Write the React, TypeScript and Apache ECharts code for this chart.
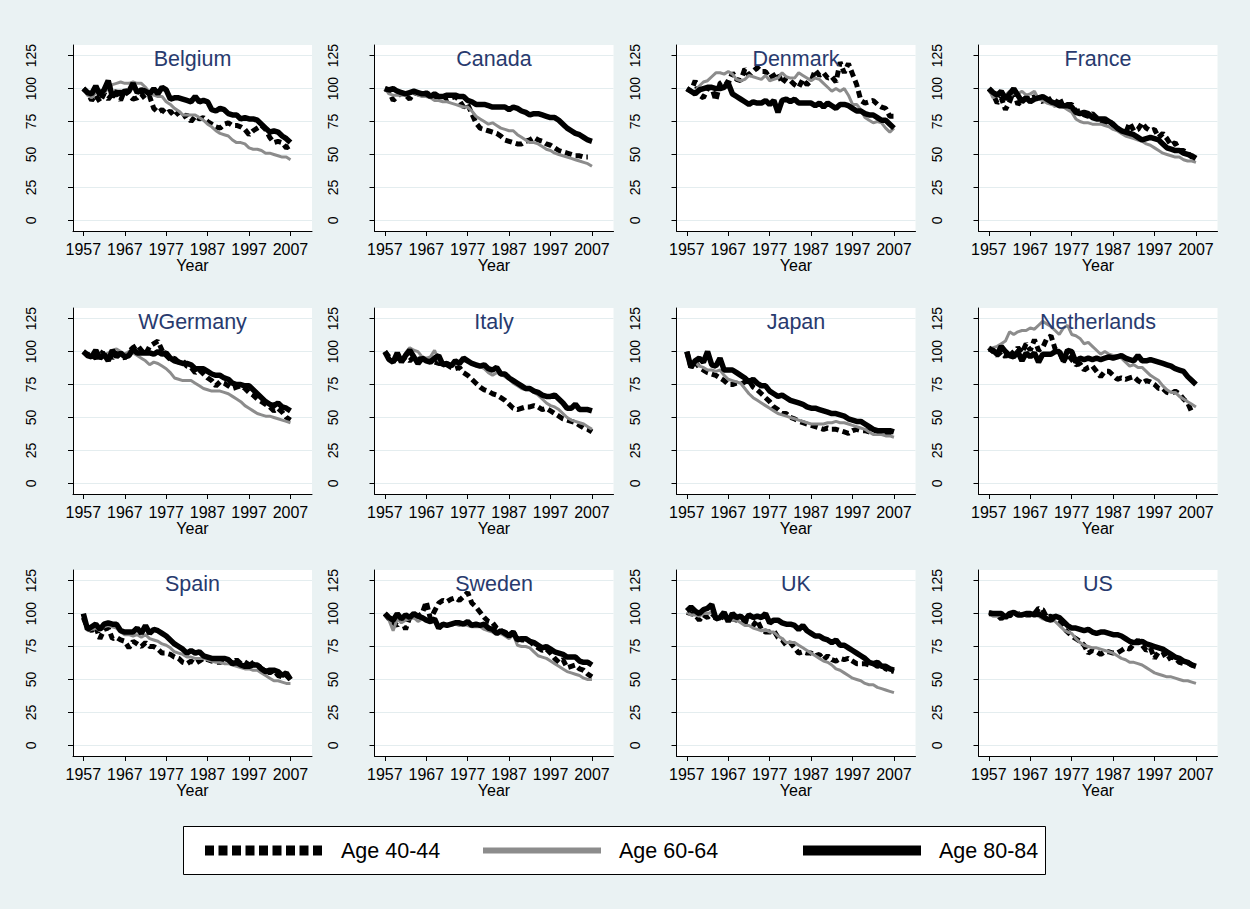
import React, { useEffect, useRef } from "react";
import * as echarts from "echarts";

const years = [
  1957, 1958, 1959, 1960, 1961, 1962, 1963, 1964, 1965, 1966,
  1967, 1968, 1969, 1970, 1971, 1972, 1973, 1974, 1975, 1976,
  1977, 1978, 1979, 1980, 1981, 1982, 1983, 1984, 1985, 1986,
  1987, 1988, 1989, 1990, 1991, 1992, 1993, 1994, 1995, 1996,
  1997, 1998, 1999, 2000, 2001, 2002, 2003, 2004, 2005, 2006,
  2007,
];
const xTicks = [1957, 1967, 1977, 1987, 1997, 2007];
const yTicks = [0, 25, 50, 75, 100, 125];
const countries = ["Belgium", "Canada", "Denmark", "France", "WGermany", "Italy", "Japan", "Netherlands", "Spain", "Sweden", "UK", "US"];
const ageGroups = ["Age 40-44", "Age 60-64", "Age 80-84"];

const belgium40 = [100, 97, 91, 95, 90, 96, 92, 96, 98, 91, 99, 95, 92, 93, 96, 92, 94, 85, 82, 84, 81, 83, 79, 82, 78, 80, 75, 79, 77, 78, 75, 73, 71, 70, 73, 74, 72, 72, 71, 69, 65, 68, 70, 72, 69, 63, 59, 60, 59, 55, 57];
const belgium60 = [100, 95, 93, 97, 99, 97, 100, 103, 104, 105, 104, 104, 105, 104, 104, 101, 97, 95, 94, 94, 90, 88, 85, 83, 80, 80, 80, 80, 78, 76, 73, 71, 68, 66, 65, 64, 61, 59, 59, 58, 55, 54, 54, 53, 51, 51, 50, 49, 48, 48, 46];
const belgium80 = [100, 97, 96, 102, 95, 99, 106, 94, 97, 97, 97, 98, 104, 97, 99, 98, 96, 100, 96, 101, 99, 92, 93, 93, 92, 91, 90, 94, 90, 91, 90, 84, 83, 85, 84, 81, 80, 80, 77, 78, 77, 77, 76, 73, 70, 67, 68, 67, 64, 62, 59];

const canada40 = [100, 98, 91, 94, 97, 95, 92, 97, 96, 95, 97, 95, 93, 94, 95, 92, 93, 94, 91, 86, 88, 81, 74, 70, 69, 68, 67, 66, 64, 61, 60, 59, 58, 58, 60, 61, 63, 61, 60, 58, 57, 55, 53, 52, 51, 50, 49, 49, 48, 48, null];
const canada60 = [100, 96, 95, 95, 95, 95, 96, 97, 95, 94, 94, 93, 91, 91, 90, 90, 89, 88, 87, 86, 86, 83, 79, 77, 75, 73, 74, 72, 70, 69, 68, 68, 65, 63, 61, 59, 59, 58, 56, 54, 53, 51, 50, 49, 48, 47, 46, 45, 44, 43, 41];
const canada80 = [100, 99, 100, 98, 97, 96, 97, 98, 97, 96, 96, 94, 96, 94, 94, 95, 95, 95, 94, 94, 91, 90, 88, 88, 88, 87, 86, 86, 86, 86, 84, 86, 85, 83, 82, 80, 81, 81, 80, 79, 78, 78, 76, 73, 70, 68, 66, 65, 63, 61, 60];

const denmark40 = [100, 98, 106, 95, 93, 100, 101, 91, 104, 106, 104, 112, 107, 106, 115, 110, 113, 116, 113, 113, 108, 110, 112, 104, 108, 106, 103, 101, 107, 103, 106, 114, 110, 112, 108, 109, 105, 120, 112, 119, 111, 103, 91, 89, 90, 91, 88, 86, 85, 79, 79];
const denmark60 = [100, 98, 98, 102, 105, 106, 109, 112, 112, 111, 113, 111, 107, 106, 107, 110, 109, 108, 107, 110, 106, 107, 108, 112, 109, 108, 108, 112, 110, 108, 106, 108, 107, 104, 101, 98, 100, 98, 100, 95, 88, 88, 84, 78, 76, 74, 75, 74, 70, 67, 70];
const denmark80 = [100, 98, 96, 99, 100, 101, 101, 100, 100, 101, 104, 96, 94, 92, 90, 88, 90, 89, 89, 91, 88, 91, 82, 91, 92, 90, 92, 89, 89, 89, 89, 87, 89, 86, 89, 87, 85, 88, 88, 87, 85, 83, 83, 81, 80, 80, 78, 76, 76, 73, 70];

const france40 = [100, 96, 89, 93, 84, 90, 98, 88, 91, 93, 92, 94, 92, 90, 95, 90, 87, 93, 86, 88, 88, 83, 83, 80, 79, 81, 78, 76, 74, 76, 72, 70, 68, 66, 74, 68, 69, 74, 70, 68, 69, 63, 66, 62, 57, 59, 53, 53, 51, 48, 48];
const france60 = [100, 93, 95, 97, 95, 98, 96, 96, 98, 95, 96, 98, 92, 91, 89, 88, 87, 87, 86, 84, 82, 77, 75, 74, 74, 73, 73, 73, 72, 71, 69, 68, 66, 64, 63, 62, 61, 60, 58, 57, 55, 53, 51, 50, 49, 48, 48, 46, 45, 45, 44];
const france80 = [100, 97, 95, 98, 92, 96, 100, 95, 90, 93, 90, 92, 93, 94, 92, 90, 89, 87, 87, 87, 86, 82, 81, 82, 81, 78, 77, 77, 77, 75, 73, 70, 68, 67, 66, 65, 63, 61, 62, 63, 62, 61, 58, 55, 54, 53, 53, 51, 50, 49, 47];

const wgermany40 = [100, 98, 97, 95, 100, 98, 100, 95, 99, 97, 95, 100, 103, 105, 101, 98, 104, 106, 108, 101, 97, 94, 95, 92, 93, 89, 88, 84, 86, 83, 80, 78, 74, 77, 76, 74, 72, 73, 74, 72, 69, 67, 64, 62, 60, 58, 55, 57, 54, 50, 48];
const wgermany60 = [100, 97, 97, 99, 98, 97, 99, 101, 102, 100, 98, 100, 99, 97, 95, 93, 90, 92, 91, 89, 87, 84, 80, 79, 78, 78, 78, 76, 74, 72, 71, 70, 70, 70, 69, 68, 66, 64, 62, 59, 57, 55, 53, 52, 51, 51, 50, 49, 48, 47, 46];
const wgermany80 = [100, 97, 96, 101, 95, 98, 93, 101, 96, 99, 96, 97, 102, 99, 99, 99, 99, 98, 100, 98, 99, 95, 93, 92, 91, 91, 90, 87, 87, 87, 85, 83, 82, 82, 80, 79, 76, 75, 75, 74, 74, 71, 68, 65, 62, 60, 59, 61, 58, 57, 55];

const italy40 = [100, 96, 93, 95, 93, 96, 93, 96, 94, 95, 92, 95, 92, 91, 91, 90, 88, 87, 88, 84, 82, 79, 76, 73, 71, 70, 68, 67, 65, 63, 60, 57, 56, 57, 58, 58, 59, 58, 56, 57, 55, 53, 51, 49, 48, 47, 46, 44, 42, 41, 39];
const italy60 = [100, 94, 92, 97, 93, 99, 103, 101, 100, 96, 95, 96, 101, 93, 92, 91, 91, 90, 92, 93, 92, 91, 89, 89, 87, 84, 82, 84, 83, 81, 79, 76, 74, 72, 71, 71, 69, 67, 64, 61, 59, 58, 56, 53, 50, 48, 47, 46, 45, 43, 41];
const italy80 = [100, 94, 92, 99, 92, 97, 101, 96, 91, 95, 93, 92, 95, 97, 90, 91, 89, 93, 91, 95, 93, 91, 90, 89, 90, 87, 86, 88, 83, 83, 80, 78, 76, 74, 72, 72, 70, 69, 67, 66, 66, 67, 64, 61, 57, 57, 60, 56, 56, 56, 55];

const japan40 = [100, 88, 92, 88, 86, 84, 83, 82, 80, 78, 75, 75, 76, 75, 77, 78, 73, 71, 68, 65, 62, 58, 56, 53, 53, 50, 49, 47, 46, 45, 44, 43, 42, 41, 42, 41, 41, 40, 39, 38, 40, 41, 40, 40, 39, 38, 38, 38, 38, 37, 37];
const japan60 = [100, 88, 92, 89, 88, 86, 86, 85, 86, 82, 79, 78, 77, 76, 72, 68, 65, 63, 61, 59, 57, 55, 53, 52, 51, 50, 49, 48, 47, 46, 45, 45, 45, 45, 46, 46, 47, 46, 46, 45, 44, 43, 42, 41, 39, 37, 37, 37, 36, 36, 35];
const japan80 = [100, 88, 93, 95, 92, 100, 90, 89, 95, 86, 86, 86, 84, 82, 80, 77, 79, 76, 74, 74, 70, 68, 66, 67, 65, 63, 62, 61, 60, 58, 57, 57, 56, 55, 54, 53, 53, 52, 51, 49, 48, 47, 47, 45, 43, 41, 40, 40, 40, 40, 39];

const netherlands40 = [103, 100, 97, 100, 96, 101, 98, 103, 99, 106, 101, 109, 101, 103, 110, 112, 102, 101, 92, 98, 94, 90, 91, 86, 88, 89, 85, 81, 85, 85, 82, 79, 80, 79, 80, 81, 78, 76, 78, 77, 75, 72, 72, 69, 68, 70, 68, 64, 61, 54, null];
const netherlands60 = [102, 103, 104, 106, 108, 115, 113, 115, 116, 116, 118, 117, 120, 123, 121, 119, 116, 113, 118, 120, 113, 112, 110, 106, 107, 104, 101, 98, 100, 98, 97, 97, 95, 92, 89, 90, 88, 88, 85, 82, 80, 78, 74, 71, 69, 69, 66, 64, 62, 60, 58];
const netherlands80 = [102, 101, 98, 104, 100, 97, 96, 100, 93, 99, 96, 99, 92, 98, 98, 98, 100, 100, 93, 101, 100, 92, 95, 94, 95, 94, 95, 94, 95, 96, 95, 96, 97, 95, 94, 93, 97, 93, 93, 94, 93, 92, 91, 90, 89, 87, 86, 85, 81, 78, 75];

const spain40 = [97, 89, 87, 90, 81, 88, 89, 81, 82, 80, 79, 74, 79, 77, 75, 78, 75, 75, 73, 70, 70, 69, 67, 66, 63, 62, 64, 62, 64, 66, 65, 64, 63, 63, 64, 65, 62, 65, 62, 60, 65, 61, 62, 58, 57, 55, 57, 53, 52, 53, 50];
const spain60 = [99, 87, 88, 89, 87, 90, 91, 90, 89, 86, 84, 84, 83, 84, 82, 84, 81, 80, 79, 77, 76, 74, 71, 70, 69, 67, 67, 66, 66, 66, 65, 64, 63, 63, 62, 62, 61, 60, 59, 58, 58, 57, 57, 55, 53, 51, 49, 49, 48, 47, 47];
const spain80 = [100, 88, 90, 92, 88, 92, 93, 92, 92, 87, 86, 86, 86, 89, 85, 91, 85, 88, 87, 85, 83, 80, 77, 75, 73, 70, 72, 70, 71, 68, 67, 66, 66, 66, 66, 65, 62, 63, 61, 60, 60, 61, 61, 58, 56, 57, 57, 56, 53, 55, 50];

const sweden40 = [100, 96, 93, 91, 96, 88, 97, 99, 98, 100, 109, 96, 102, 108, 110, 109, 111, 112, 110, 113, 116, 108, 105, 101, 97, 94, 93, 89, 87, 86, 84, 86, 81, 80, 80, 79, 76, 74, 72, 73, 70, 66, 63, 65, 59, 60, 61, 58, 57, 54, 52];
const sweden60 = [99, 95, 87, 96, 93, 95, 96, 97, 94, 96, 95, 93, 94, 91, 91, 92, 91, 92, 91, 92, 91, 90, 90, 90, 88, 87, 86, 84, 85, 83, 81, 84, 76, 75, 75, 74, 71, 68, 67, 66, 64, 62, 60, 58, 56, 55, 54, 53, 51, 50, 50];
const sweden80 = [100, 97, 95, 100, 96, 99, 97, 100, 98, 97, 95, 94, 96, 89, 92, 91, 92, 93, 93, 92, 94, 91, 92, 91, 92, 89, 88, 85, 87, 85, 83, 86, 80, 81, 81, 79, 78, 76, 74, 75, 73, 71, 70, 69, 67, 67, 67, 64, 63, 63, 61];

const uk40 = [101, 100, 99, 95, 99, 97, 100, 97, 96, 98, 96, 96, 95, 94, 94, 93, 91, 95, 88, 86, 86, 87, 82, 80, 76, 78, 74, 70, 71, 70, 70, 68, 69, 65, 68, 65, 64, 66, 65, 66, 64, 62, 62, 62, 61, 62, 60, 61, 58, 57, 56];
const uk60 = [101, 99, 99, 98, 100, 100, 101, 97, 97, 98, 96, 95, 95, 93, 91, 91, 89, 88, 87, 88, 86, 86, 83, 81, 78, 78, 78, 76, 74, 72, 70, 68, 66, 64, 63, 61, 58, 57, 55, 53, 51, 50, 49, 47, 46, 46, 44, 43, 42, 41, 40];
const uk80 = [102, 105, 102, 100, 103, 104, 107, 96, 97, 101, 94, 100, 97, 98, 95, 99, 97, 98, 97, 100, 93, 95, 95, 93, 92, 92, 91, 88, 91, 87, 85, 83, 83, 81, 80, 78, 80, 76, 76, 74, 72, 70, 68, 66, 63, 62, 63, 60, 60, 58, 57];

const us40 = [101, 100, 99, 96, 100, 98, 101, 99, 101, 99, 99, 100, 104, 103, 97, 98, 96, 93, 89, 86, 83, 81, 79, 76, 70, 72, 71, 69, 71, 71, 70, 70, 72, 74, 73, 77, 80, 76, 72, 74, 66, 71, 71, 65, 67, 66, 63, 62, 63, 61, 60];
const us60 = [100, 98, 98, 99, 98, 100, 100, 100, 100, 99, 100, 99, 98, 96, 95, 96, 94, 91, 88, 86, 85, 81, 78, 76, 75, 74, 74, 73, 72, 71, 70, 68, 66, 65, 63, 63, 62, 61, 59, 57, 55, 54, 53, 52, 52, 51, 50, 49, 49, 48, 47];
const us80 = [100, 100, 100, 100, 97, 100, 101, 99, 99, 100, 100, 99, 100, 98, 96, 95, 98, 97, 94, 91, 89, 89, 88, 87, 88, 86, 85, 86, 86, 85, 84, 84, 83, 81, 79, 78, 78, 79, 77, 76, 75, 74, 73, 71, 69, 67, 66, 64, 63, 61, 60];

const countrySeries = [
  [belgium40, belgium60, belgium80],
  [canada40, canada60, canada80],
  [denmark40, denmark60, denmark80],
  [france40, france60, france80],
  [wgermany40, wgermany60, wgermany80],
  [italy40, italy60, italy80],
  [japan40, japan60, japan80],
  [netherlands40, netherlands60, netherlands80],
  [spain40, spain60, spain80],
  [sweden40, sweden60, sweden80],
  [uk40, uk60, uk80],
  [us40, us60, us80],
];

const FONT = "'Liberation Sans', Arial, Helvetica, sans-serif";
const GRAY = "#8c8c8c";
const NAVY = "#283a6e";

const colLeft = [73, 374.5, 676.5, 978.5];
const rowTop = [45, 308, 570];
const PW = 239;
const PH = 186;

const lineStyles = [
  { color: "#000", width: 5, type: [7, 4], cap: "butt" },
  { color: GRAY, width: 3 },
  { color: "#000", width: 5.5 },
];
const lineColors = ["#000", GRAY, "#000"];
const legendLineStyles = [
  { color: "#000", width: 10, type: [9, 4.5] },
  { color: GRAY, width: 6 },
  { color: "#000", width: 10 },
];
const legendKeyX = [200, 480, 798];

export default function App() {
  const ref = useRef<HTMLDivElement>(null);
  useEffect(() => {
    document.body.style.margin = "0";
    const chart = echarts.init(ref.current!, undefined, { renderer: "svg" });
    const grids: any[] = [];
    const xAxes: any[] = [];
    const yAxes: any[] = [];
    const series: any[] = [];
    const graphics: any[] = [];
    countries.forEach((name, i) => {
      const c = i % 4;
      const r = Math.floor(i / 4);
      const left = colLeft[c];
      const top = rowTop[r];
      grids.push({ left, top, width: PW, height: PH, show: true, backgroundColor: "#fff", borderWidth: 0, containLabel: false });
      xAxes.push({
        type: "value", gridIndex: i, min: 1954.5, max: 2012.2,
        axisLine: { show: true, onZero: false, lineStyle: { color: "#000", width: 1 } },
        axisTick: { show: true, length: 5, customValues: xTicks, lineStyle: { color: "#000" } },
        axisLabel: { customValues: xTicks, fontSize: 16, color: "#000", margin: 10, fontFamily: FONT, formatter: (v: number) => String(v) },
        splitLine: { show: false },
        name: "Year", nameLocation: "middle", nameGap: 25,
        nameTextStyle: { fontSize: 16, color: "#000", fontFamily: FONT },
      });
      yAxes.push({
        type: "value", gridIndex: i, min: -8.1, max: 133.1,
        axisLine: { show: true, onZero: false, lineStyle: { color: "#000", width: 1 } },
        axisTick: { show: true, length: 5, customValues: yTicks, lineStyle: { color: "#000" } },
        axisLabel: { customValues: yTicks, rotate: 90, fontSize: 14, color: "#000", margin: 35, fontFamily: FONT, formatter: (v: number) => String(v) },
        splitLine: { show: true, lineStyle: { color: "#e4edef", width: 1 } },
      });
      countrySeries[i].forEach((vals, k) => {
        series.push({
          type: "line", name: ageGroups[k], xAxisIndex: i, yAxisIndex: i,
          data: years.map((y, j) => [y, vals[j]]),
          symbol: "none", connectNulls: false, silent: true,
          itemStyle: { color: lineColors[k] },
          lineStyle: lineStyles[k], z: 2 + k,
        });
      });
      graphics.push({
        type: "text", x: left + PW / 2, y: top + 14,
        style: { text: name, fontSize: 21.5, fontFamily: FONT, fill: NAVY, textAlign: "center", textVerticalAlign: "middle" },
        z: 100,
      });
    });
    graphics.push({
      type: "rect", shape: { x: 183.5, y: 826.5, width: 862, height: 48 },
      style: { fill: "#fff", stroke: "#000", lineWidth: 1 }, z: 0,
    });
    const hidden = { color: "rgba(0,0,0,0)", borderWidth: 0, opacity: 0 };
    const legends = ageGroups.map((g, k) => ({
      left: legendKeyX[k], top: 839.5, orient: "horizontal",
      padding: 0, itemGap: 0, itemWidth: 118, itemHeight: 10,
      selectedMode: false, z: 10,
      textStyle: { fontSize: 21.5, color: "#000", fontFamily: FONT, padding: [0, 0, 0, 13] },
      data: [{ name: g, itemStyle: hidden, lineStyle: legendLineStyles[k] }],
    }));
    chart.setOption({
      animation: false,
      backgroundColor: "#EAF2F3",
      textStyle: { fontFamily: FONT },
      grid: grids,
      xAxis: xAxes,
      yAxis: yAxes,
      series,
      graphic: graphics,
      legend: legends,
    });
    return () => chart.dispose();
  }, []);
  return <div ref={ref} style={{ width: 1250, height: 909 }} />;
}
